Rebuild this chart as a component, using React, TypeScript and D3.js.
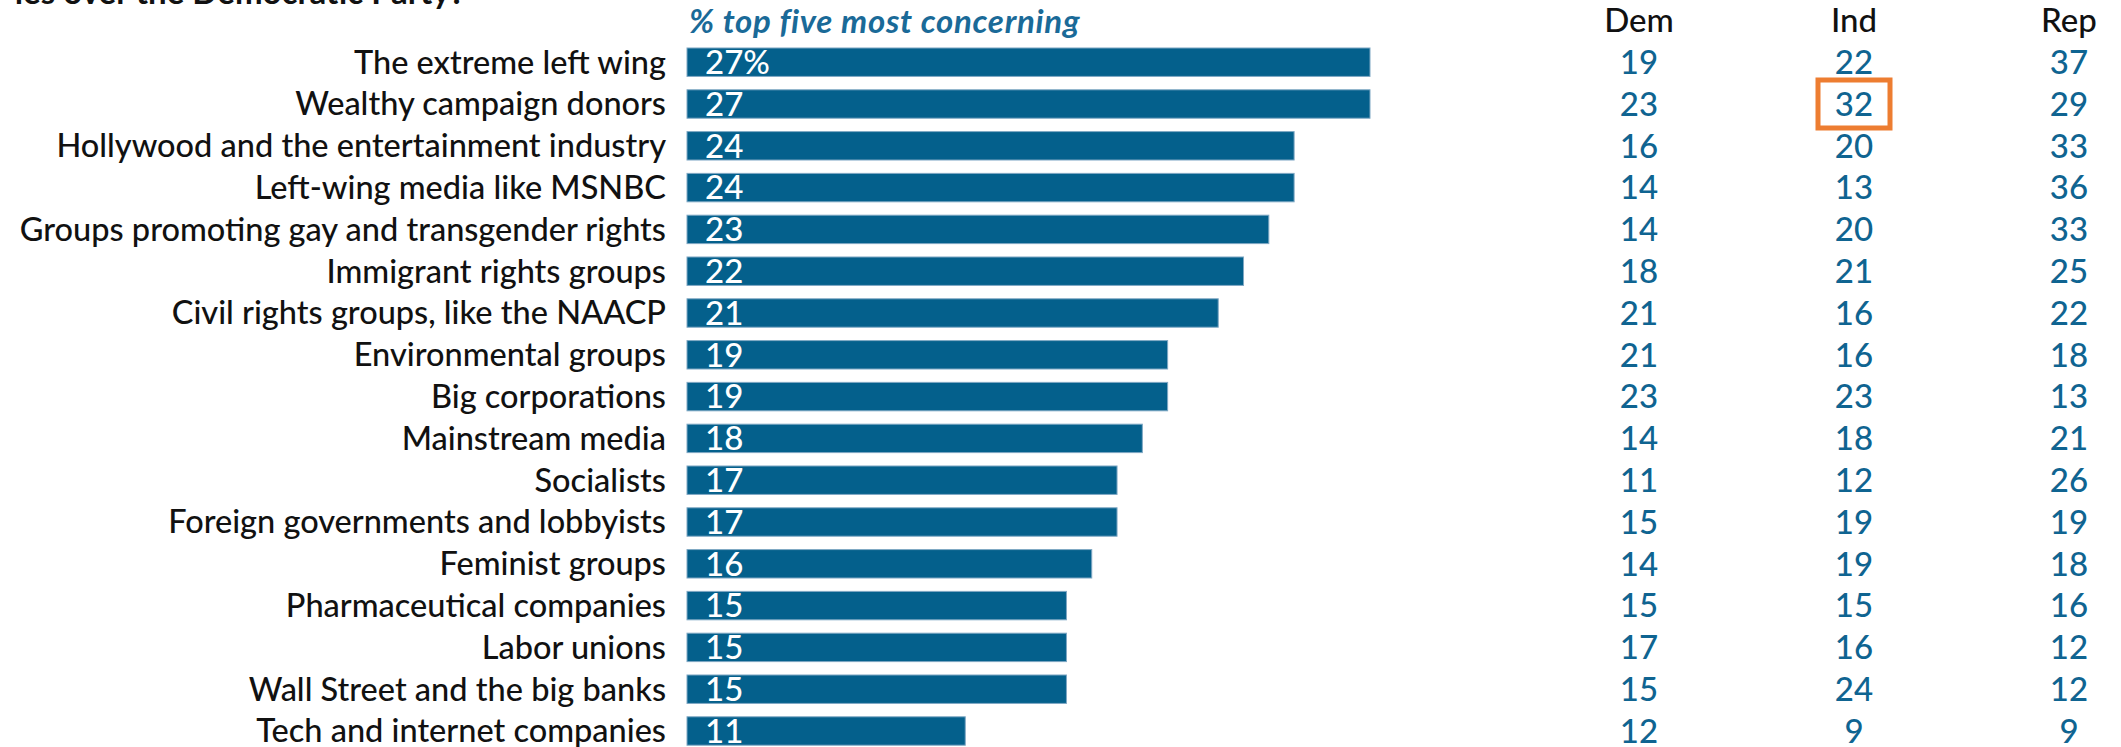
import React from "react";
import * as d3 from "d3";

const categories = [
  "The extreme left wing",
  "Wealthy campaign donors",
  "Hollywood and the entertainment industry",
  "Left-wing media like MSNBC",
  "Groups promoting gay and transgender rights",
  "Immigrant rights groups",
  "Civil rights groups, like the NAACP",
  "Environmental groups",
  "Big corporations",
  "Mainstream media",
  "Socialists",
  "Foreign governments and lobbyists",
  "Feminist groups",
  "Pharmaceutical companies",
  "Labor unions",
  "Wall Street and the big banks",
  "Tech and internet companies",
];
const totalValues = [27, 27, 24, 24, 23, 22, 21, 19, 19, 18, 17, 17, 16, 15, 15, 15, 11];
const demValues = [19, 23, 16, 14, 14, 18, 21, 21, 23, 14, 11, 15, 14, 15, 17, 15, 12];
const indValues = [22, 32, 20, 13, 20, 21, 16, 16, 23, 18, 12, 19, 19, 15, 16, 24, 9];
const repValues = [37, 29, 33, 36, 33, 25, 22, 18, 13, 21, 26, 19, 18, 16, 12, 12, 9];
const partyHeaders = ["Dem", "Ind", "Rep"];
const highlight = { party: "Ind", category: "Wealthy campaign donors" };
const titleText = "ies over the Democratic Party?";
const subtitleText = "% top five most concerning";

if (typeof document !== "undefined") {
  document.body.style.margin = "0";
  document.body.style.overflow = "hidden";
}

const W = 2121;
const H = 747;
const FONT = "Lato, 'Open Sans', sans-serif";
const BLUE = "#04608c";
const TEAL = "#0f6491";

export default function App() {
  const y = d3
    .scaleBand<string>()
    .domain(categories)
    .range([41.3, 41.3 + categories.length * 41.8])
    .paddingInner(0.32)
    .paddingOuter(0.16);
  const x = d3.scaleLinear().domain([0, 27]).range([687, 1370]);
  const colX = d3.scalePoint<string>().domain(partyHeaders).range([1639, 2069]);
  const partyData: Record<string, number[]> = { Dem: demValues, Ind: indValues, Rep: repValues };

  const hy = (y(highlight.category) ?? 0) + y.bandwidth() / 2;
  const hx = colX(highlight.party) ?? 0;

  return (
    <svg width={W} height={H} style={{ display: "block" }} fontFamily={FONT}>
      <rect x={0} y={0} width={W} height={H} fill="#fff" />
      <text x={465} y={4} textAnchor="end" fontSize={33} fontWeight={700} fill="#111">
        {titleText}
      </text>
      <text
        x={689}
        y={33}
        fontSize={33}
        fontStyle="italic"
        fontWeight={700}
        letterSpacing={0.7}
        fill="#1a6a98"
      >
        {subtitleText}
      </text>
      {partyHeaders.map((p) => (
        <text
          key={p}
          x={colX(p)}
          y={32}
          textAnchor="middle"
          fontSize={33}
          fontWeight={500}
          fill="#111"
        >
          {p}
        </text>
      ))}
      {categories.map((c, i) => {
        const top = y(c) ?? 0;
        const cy = top + y.bandwidth() / 2;
        return (
          <g key={c}>
            <text
              x={666}
              y={cy}
              dy="0.35em"
              textAnchor="end"
              fontSize={32.5}
              fontWeight={500}
              fill="#111"
            >
              {c}
            </text>
            <rect
              x={x(0)}
              y={top}
              width={x(totalValues[i]) - x(0)}
              height={y.bandwidth()}
              fill={BLUE}
              stroke="#7fa8c4"
              strokeWidth={1}
            />
            <text x={705} y={cy} dy="0.36em" fontSize={33} fontWeight={500} fill="#fff">
              {i === 0 ? `${totalValues[i]}%` : totalValues[i]}
            </text>
            {partyHeaders.map((p) => (
              <text
                key={p}
                x={colX(p)}
                y={cy}
                dy="0.36em"
                textAnchor="middle"
                fontSize={33}
                fontWeight={500}
                fill={TEAL}
              >
                {partyData[p][i]}
              </text>
            ))}
          </g>
        );
      })}
      <rect
        x={hx - 36}
        y={hy - 24}
        width={72}
        height={48}
        fill="none"
        stroke="#ed7d31"
        strokeWidth={5}
      />
    </svg>
  );
}
